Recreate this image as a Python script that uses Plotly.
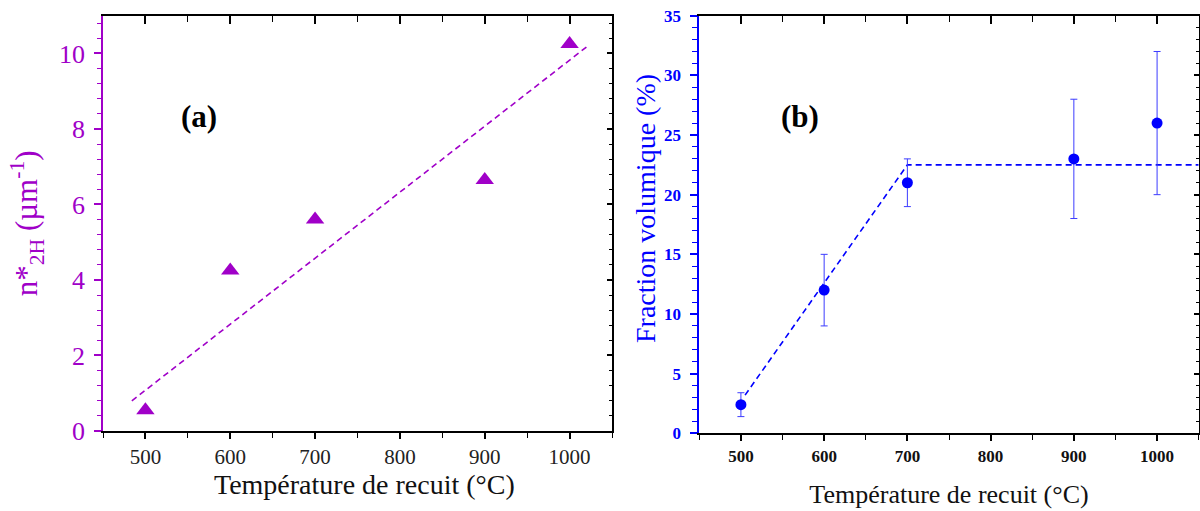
import plotly.graph_objects as go

# ---- Data ----
temps_a = [500, 600, 700, 900, 1000]
n2h = [0.55, 4.25, 5.6, 6.65, 10.25]
fit_a_x = [484, 1021]
fit_a_y = [0.80, 10.19]

temps_b = [500, 600, 700, 900, 1000]
frac = [2.4, 12, 21, 23, 26]
frac_err = [1.0, 3.0, 2.0, 5.0, 6.0]
fit_b_x = [505, 700, 1050]
fit_b_y = [3.2, 22.5, 22.5]

x_ticks = [500, 600, 700, 800, 900, 1000]
ya_ticks = [0, 2, 4, 6, 8, 10]
yb_ticks = [0, 5, 10, 15, 20, 25, 30, 35]

x_title = 'Température de recuit (°C)'
ya_title = 'n*<sub>2H</sub> (µm<sup>-1</sup>)'
yb_title = 'Fraction volumique (%)'

PURPLE = '#a000c8'
BLUE = '#0000ff'
SERIF = 'Liberation Serif'

fig = go.Figure()

fig.add_trace(go.Scatter(x=fit_a_x, y=fit_a_y, mode='lines',
                         line=dict(color=PURPLE, width=1.6, dash='6px,4px'),
                         xaxis='x', yaxis='y', showlegend=False))
fig.add_trace(go.Scatter(x=temps_a, y=n2h, mode='markers',
                         marker=dict(symbol='triangle-up', size=16, color=PURPLE),
                         xaxis='x', yaxis='y', showlegend=False))

fig.add_trace(go.Scatter(x=fit_b_x, y=fit_b_y, mode='lines',
                         line=dict(color=BLUE, width=1.6, dash='6px,4px'),
                         xaxis='x2', yaxis='y2', showlegend=False))
fig.add_trace(go.Scatter(x=temps_b, y=frac, mode='markers',
                         marker=dict(symbol='circle', size=11, color=BLUE),
                         error_y=dict(type='data', array=frac_err, color='#3c3cff',
                                      thickness=1, width=3.5),
                         xaxis='x2', yaxis='y2', showlegend=False))

xa_dom = [103/1200, 612/1200]
ya_dom = [(511-431)/511, (511-15.7)/511]
xb_dom = [699.3/1200, 1198.7/1200]
yb_dom = [(511-433.3)/511, (511-15.7)/511]

common_x = dict(range=[450, 1050], showgrid=False, zeroline=False, showline=True,
                automargin=False,
                linecolor='black', linewidth=1.8, tickmode='array', tickvals=x_ticks,
                ticks='outside', ticklen=6, tickwidth=1.5, tickcolor='black',
                minor=dict(dtick=50, tick0=0, ticks='outside', ticklen=5,
                           tickwidth=1.2, tickcolor='black'))

layout = dict(
    width=1200, height=511, margin=dict(l=0, r=0, t=0, b=0, autoexpand=False),
    paper_bgcolor='white', plot_bgcolor='white', showlegend=False,
    # panel (a)
    xaxis=dict(**common_x, domain=xa_dom, anchor='y',
               tickfont=dict(family=SERIF, size=21, color='#222')),
    yaxis=dict(domain=ya_dom, anchor='x', range=[0, 11], showgrid=False, zeroline=False,
               automargin=False,
               showline=True, linecolor=PURPLE, linewidth=1.8,
               tickmode='array', tickvals=ya_ticks, ticks='outside', ticklen=7,
               tickwidth=1.5, tickcolor=PURPLE, ticklabelstandoff=4,
               minor=dict(dtick=0.4, tick0=0, ticks='outside', ticklen=4,
                         tickwidth=1.2, tickcolor=PURPLE),
               tickfont=dict(family=SERIF, size=26, color=PURPLE),
               title=dict(text=ya_title, standoff=12,
                          font=dict(family=SERIF, size=31, color=PURPLE))),
    xaxis3=dict(range=[450, 1050], overlaying='x', anchor='y', side='top',
                automargin=False,
                showgrid=False, zeroline=False, showline=True, linecolor='black',
                linewidth=1.8, tickmode='array', tickvals=x_ticks, ticks='inside',
                ticklen=8, tickwidth=1.5, tickcolor='black', showticklabels=False,
                minor=dict(dtick=50, tick0=0, ticks='inside', ticklen=6,
                           tickwidth=1.2, tickcolor='black')),
    yaxis3=dict(range=[0, 11], overlaying='y', anchor='x', side='right',
                automargin=False,
                showgrid=False, zeroline=False, showline=True, linecolor='black',
                linewidth=1.8, tickmode='array', tickvals=ya_ticks, ticks='inside',
                ticklen=5, tickwidth=1.5, tickcolor='black', showticklabels=False,
                minor=dict(dtick=0.4, tick0=0, ticks='inside', ticklen=3,
                           tickwidth=1.2, tickcolor='black')),
    # panel (b)
    xaxis2=dict(**common_x, domain=xb_dom, anchor='y2',
                tickfont=dict(family=SERIF, size=17, color='#111', weight='bold'),
                title=dict(text=x_title, standoff=20,
                           font=dict(family=SERIF, size=26, color='#111'))),
    yaxis2=dict(domain=yb_dom, anchor='x2', range=[0, 35], showgrid=False, zeroline=False,
                automargin=False,
                showline=True, linecolor=BLUE, linewidth=1.8,
                tickmode='array', tickvals=yb_ticks, ticks='outside', ticklen=7,
                tickwidth=1.5, tickcolor=BLUE, ticklabelstandoff=6,
                minor=dict(dtick=1, tick0=0, ticks='outside', ticklen=5,
                           tickwidth=1.2, tickcolor=BLUE),
                tickfont=dict(family=SERIF, size=17, color=BLUE, weight='bold')),
    xaxis4=dict(range=[450, 1050], overlaying='x2', anchor='y2', side='top',
                automargin=False,
                showgrid=False, zeroline=False, showline=True, linecolor='black',
                linewidth=1.8, tickmode='array', tickvals=x_ticks, ticks='inside',
                ticklen=8, tickwidth=1.5, tickcolor='black', showticklabels=False,
                minor=dict(dtick=50, tick0=0, ticks='inside', ticklen=6,
                           tickwidth=1.2, tickcolor='black')),
    yaxis4=dict(range=[0, 35], overlaying='y2', anchor='x2', side='right',
                automargin=False,
                showgrid=False, zeroline=False, showline=True, linecolor='black',
                linewidth=1.8, tickmode='array', tickvals=yb_ticks, ticks='inside',
                ticklen=5, tickwidth=1.5, tickcolor='black', showticklabels=False,
                minor=dict(dtick=1, tick0=0, ticks='inside', ticklen=3,
                           tickwidth=1.2, tickcolor='black')),
    annotations=[
        dict(text='<b>(a)</b>', x=199/1200, y=1-117/511, xref='paper', yref='paper',
             xanchor='center', yanchor='middle',
             showarrow=False, font=dict(family=SERIF, size=31, color='black')),
        dict(text='<b>(b)</b>', x=800/1200, y=1-117/511, xref='paper', yref='paper',
             xanchor='center', yanchor='middle',
             showarrow=False, font=dict(family=SERIF, size=31, color='black')),
        dict(text=x_title, x=365/1200, y=1-484/511, xref='paper', yref='paper',
             xanchor='center', yanchor='middle', showarrow=False,
             font=dict(family=SERIF, size=28, color='#111')),
        dict(text=yb_title, x=646/1200, y=1-209/511, xref='paper', yref='paper',
             xanchor='center', yanchor='middle', textangle=-90, showarrow=False,
             font=dict(family=SERIF, size=28, color=BLUE)),
    ],
)
fig.update_layout(**layout)

# dummy traces so overlaying axes render
fig.add_trace(go.Scatter(x=[None], y=[None], xaxis='x3', yaxis='y3', showlegend=False))
fig.add_trace(go.Scatter(x=[None], y=[None], xaxis='x4', yaxis='y4', showlegend=False))

fig.write_html('out.html', config={'displayModeBar': False},
               post_script="document.body.style.margin='0';document.body.style.overflow='hidden';")
